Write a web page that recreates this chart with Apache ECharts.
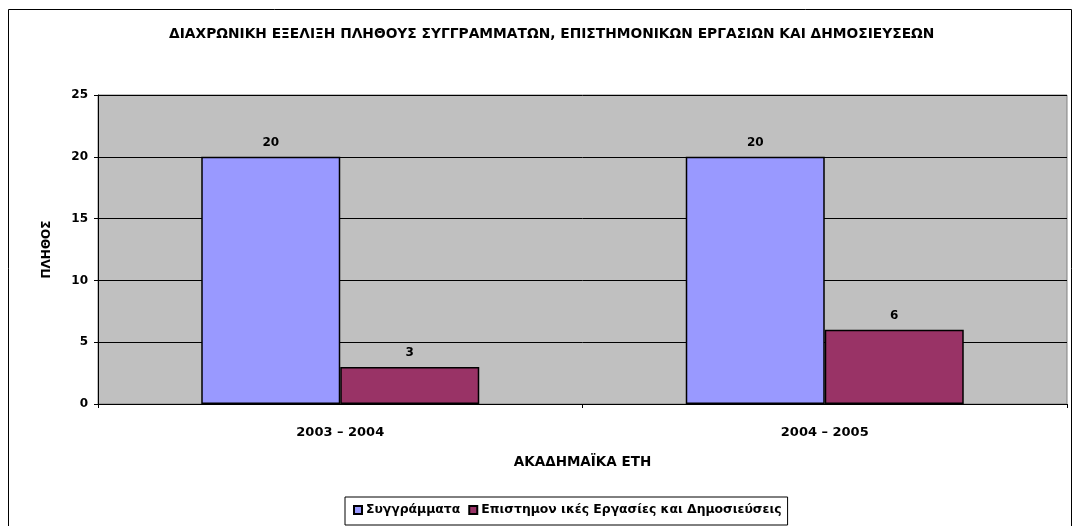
<html lang="el">
<head>
  <meta charset="utf-8">
  <title>Διαχρονική εξέλιξη</title>
  <script src="https://cdn.jsdelivr.net/npm/echarts@6/dist/echarts.min.js"></script>
  <style>
    body { margin: 0; background: #fff; }
    #main { width: 1075px; height: 526px; }
  </style>
</head>
<body>
  <div id="main"></div>
</body>
<script>
  var years = ['2003 – 2004', '2004 – 2005'];
  var books = [20, 20];
  var papers = [3, 6];
  var yTicks = [0, 5, 10, 15, 20, 25];

  var font = '"DejaVu Sans", sans-serif';
  var myChart = echarts.init(document.getElementById('main'));

  var option = {
    animation: false,
    textStyle: { fontFamily: font },
    title: {
      text: 'ΔΙΑΧΡΩΝΙΚΗ ΕΞΕΛΙΞΗ ΠΛΗΘΟΥΣ ΣΥΓΓΡΑΜΜΑΤΩΝ, ΕΠΙΣΤΗΜΟΝΙΚΩΝ ΕΡΓΑΣΙΩΝ ΚΑΙ ΔΗΜΟΣΙΕΥΣΕΩΝ',
      left: 164,
      top: 22,
      textStyle: { fontSize: 13.8, fontWeight: 'bold', color: '#000', fontFamily: font }
    },
    graphic: [
      {
        type: 'rect',
        shape: { x: 8.5, y: 9.5, width: 1063, height: 530 },
        style: { fill: 'none', stroke: '#000', lineWidth: 1 },
        silent: true
      }
    ],
    legend: {
      data: ['Συγγράμματα', 'Επιστημον ικές Εργασίες και Δημοσιεύσεις'],
      left: 345,
      top: 497,
      itemWidth: 8,
      itemHeight: 8,
      itemGap: 8,
      padding: [7, 6, 9, 8],
      borderColor: '#000',
      borderWidth: 1,
      icon: 'rect',
      textStyle: { fontSize: 12.4, fontWeight: 'bold', color: '#000', fontFamily: font, padding: [0, 0, 0, -1] }
    },
    grid: {
      left: 98,
      right: 8,
      top: 95,
      bottom: 122,
      show: true,
      backgroundColor: '#C0C0C0',
      borderColor: '#808080',
      borderWidth: 1
    },
    xAxis: {
      type: 'category',
      data: years,
      name: 'ΑΚΑΔΗΜΑΪΚΑ ΕΤΗ',
      nameLocation: 'middle',
      nameGap: 51,
      nameTextStyle: { fontSize: 13.5, fontWeight: 'bold', color: '#000' },
      axisLine: { lineStyle: { color: '#000', width: 1 } },
      axisTick: { show: true, length: 4, lineStyle: { color: '#000' } },
      axisLabel: { fontSize: 13, fontWeight: 'bold', color: '#000', margin: 22 }
    },
    yAxis: {
      type: 'value',
      min: yTicks[0],
      max: yTicks[yTicks.length - 1],
      interval: 5,
      name: 'ΠΛΗΘΟΣ',
      nameLocation: 'middle',
      nameGap: 45,
      nameTextStyle: { fontSize: 12, fontWeight: 'bold', color: '#000' },
      axisLine: { show: true, lineStyle: { color: '#000', width: 1 } },
      axisTick: { show: true, length: 4, lineStyle: { color: '#000' } },
      axisLabel: { fontSize: 12, fontWeight: 'bold', color: '#000', margin: 10 },
      splitLine: { show: true, lineStyle: { color: '#000', width: 1 } }
    },
    series: [
      {
        name: 'Συγγράμματα',
        type: 'bar',
        data: books,
        barWidth: 139,
        barGap: '0%',
        itemStyle: { color: '#9999FF', borderColor: '#000', borderWidth: 1.5 },
        label: { show: true, position: 'top', distance: 8, fontSize: 12, fontWeight: 'bold', color: '#000' }
      },
      {
        name: 'Επιστημον ικές Εργασίες και Δημοσιεύσεις',
        type: 'bar',
        data: papers,
        barWidth: 139,
        barGap: '0%',
        itemStyle: { color: '#993366', borderColor: '#000', borderWidth: 1.5 },
        label: { show: true, position: 'top', distance: 8, fontSize: 12, fontWeight: 'bold', color: '#000' }
      }
    ]
  };
  myChart.setOption(option);
</script>
</html>
